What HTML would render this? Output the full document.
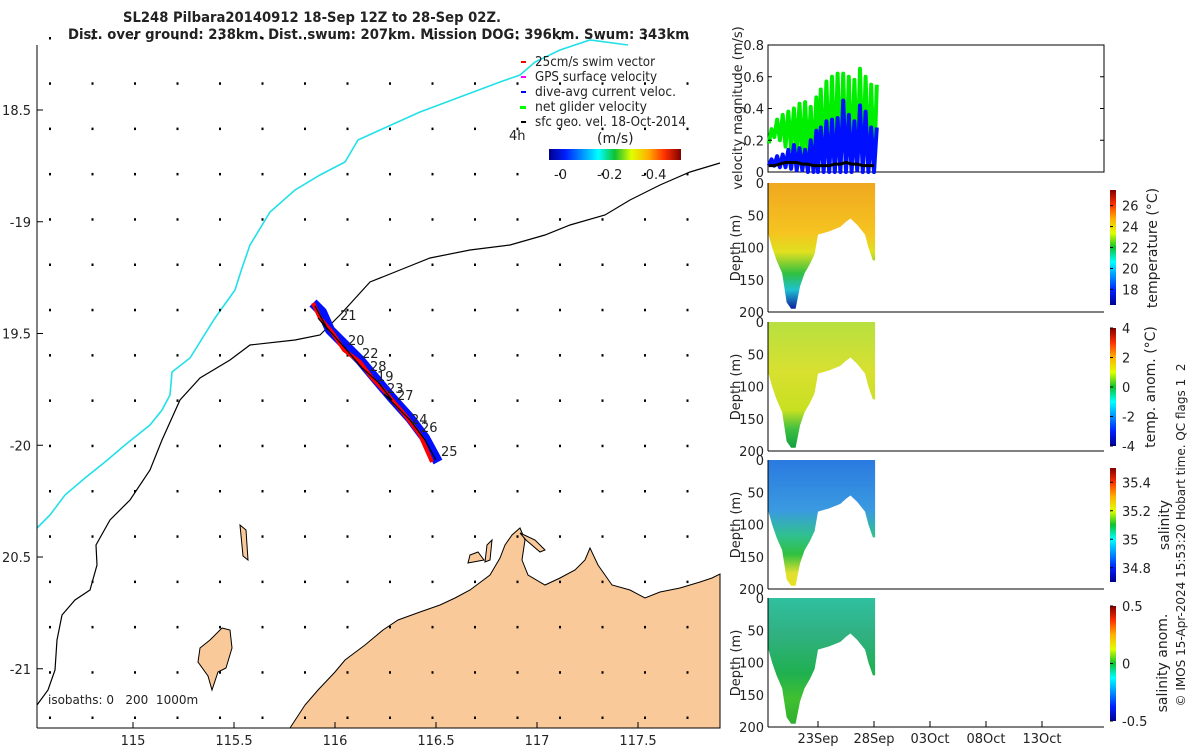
<!DOCTYPE html>
<html><head><meta charset="utf-8"><style>
body{margin:0;background:#fff;font-family:"Liberation Sans","DejaVu Sans",sans-serif;}
svg text{font-family:"DejaVu Sans","Liberation Sans",sans-serif;font-size:13px;fill:#222;}
</style></head><body>
<svg id="s" width="1200" height="750" viewBox="0 0 1200 750" xmlns="http://www.w3.org/2000/svg">
<defs>
<linearGradient id="jet" x1="0" y1="1" x2="0" y2="0">
<stop offset="0" stop-color="#00008f"/><stop offset="0.125" stop-color="#0020ff"/><stop offset="0.375" stop-color="#00ffff"/><stop offset="0.5" stop-color="#10c030"/><stop offset="0.625" stop-color="#e0ff00"/><stop offset="0.75" stop-color="#ffb000"/><stop offset="0.875" stop-color="#ff3000"/><stop offset="1" stop-color="#800000"/></linearGradient>
<linearGradient id="jeth" x1="0" y1="0" x2="1" y2="0">
<stop offset="0" stop-color="#00008f"/><stop offset="0.125" stop-color="#0020ff"/><stop offset="0.375" stop-color="#00ffff"/><stop offset="0.5" stop-color="#10c030"/><stop offset="0.625" stop-color="#e0ff00"/><stop offset="0.75" stop-color="#ffb000"/><stop offset="0.875" stop-color="#ff3000"/><stop offset="1" stop-color="#800000"/></linearGradient>
<linearGradient id="gT" x1="0" y1="0" x2="0" y2="1"><stop offset="0" stop-color="#f0a820"/><stop offset="0.4" stop-color="#f5c420"/><stop offset="0.55" stop-color="#e0e020"/><stop offset="0.72" stop-color="#30c040"/><stop offset="0.85" stop-color="#20c0d0"/><stop offset="1" stop-color="#1020a0"/></linearGradient>
<linearGradient id="gTA" x1="0" y1="0" x2="0" y2="1"><stop offset="0" stop-color="#b8e040"/><stop offset="0.4" stop-color="#d8e030"/><stop offset="0.7" stop-color="#c8e020"/><stop offset="0.85" stop-color="#40c040"/><stop offset="1" stop-color="#10a040"/></linearGradient>
<linearGradient id="gS" x1="0" y1="0" x2="0" y2="1"><stop offset="0" stop-color="#2a7ae0"/><stop offset="0.4" stop-color="#3a9ae0"/><stop offset="0.6" stop-color="#30c090"/><stop offset="0.75" stop-color="#30c040"/><stop offset="0.9" stop-color="#e0e030"/><stop offset="1" stop-color="#e8e020"/></linearGradient>
<linearGradient id="gSA" x1="0" y1="0" x2="0" y2="1"><stop offset="0" stop-color="#30c0a0"/><stop offset="0.3" stop-color="#30b080"/><stop offset="0.6" stop-color="#20b050"/><stop offset="0.8" stop-color="#40c030"/><stop offset="1" stop-color="#30b030"/></linearGradient>
</defs>

<text x="123" y="22" textLength="378" lengthAdjust="spacingAndGlyphs" style="font-weight:bold;font-size:14px">SL248 Pilbara20140912 18-Sep 12Z to 28-Sep 02Z.</text>
<text x="68" y="39" textLength="621" lengthAdjust="spacingAndGlyphs" style="font-weight:bold;font-size:14px">Dist. over ground: 238km. Dist. swum: 207km. Mission DOG: 396km. Swum: 343km</text>

<g>
<path d="M290,728 L305,705 L318,690 L335,672 L345,660 L365,645 L383,630 L398,620 L420,612 L440,605 L455,598 L470,590 L490,575 L500,558 L505,545 L512,535 L520,528 L525,540 L522,560 L528,575 L545,585 L560,578 L575,570 L585,560 L590,548 L598,565 L612,585 L630,590 L645,598 L660,592 L680,588 L700,582 L712,578 L720,574 L720,728 Z" fill="#f9c99a" stroke="#000" stroke-width="1"/>
<path d="M222,628 L230,630 L232,648 L226,668 L218,672 L212,690 L208,676 L198,662 L200,648 L210,640 Z" fill="#f9c99a" stroke="#000" stroke-width="1"/>
<path d="M470,555 L478,552 L484,560 L468,563 Z M487,545 L492,540 L490,560 L485,562 Z M520,533 L535,540 L545,550 L540,552 L526,540 Z M240,525 L246,530 L248,560 L243,556 Z" fill="#f9c99a" stroke="#000" stroke-width="1"/>
<polyline points="37,705 48,690 55,670 57,640 62,615 75,600 90,590 97,565 96,545 110,520 130,500 150,470 162,440 180,400 200,378 230,360 250,345 295,340 320,335 340,315 370,282 400,270 430,258 470,250 510,245 545,235 570,225 605,215 630,200 660,185 690,172 720,163" fill="none" stroke="#000" stroke-width="1.2"/>
<polyline points="37,528 50,515 65,495 85,478 105,462 125,445 150,425 162,410 170,395 172,372 190,358 200,342 215,318 235,290 242,268 250,245 270,212 295,190 320,175 345,162 358,140 380,130 420,112 460,97 500,82 520,75 535,62 560,50 590,40 628,45" fill="none" stroke="#22e0e8" stroke-width="1.6"/>
<g id="dots"></g>
<polyline points="313,303 322,312 330,330 345,345 360,360 375,378 392,398 410,418 425,438 438,462" fill="none" stroke="#0010ff" stroke-width="10" stroke-linejoin="round"/>
<polyline points="313,303 320,318 332,332 344,350 360,362 372,378 388,395 405,415 420,435 432,462" fill="none" stroke="#ff0000" stroke-width="4" stroke-linejoin="round"/>
<polyline points="315,306 328,330 318,318 345,348 362,368 378,382 392,400 384,394 410,420 425,440 436,460" fill="none" stroke="#000" stroke-width="1.2"/>
<g>
<text x="340" y="320">21</text><text x="348" y="345">20</text><text x="362" y="358">22</text><text x="370" y="371">28</text><text x="377" y="381">19</text><text x="387" y="393">23</text><text x="397" y="400">27</text><text x="411" y="424">24</text><text x="421" y="432">26</text><text x="441" y="456">25</text></g>
<line x1="37" y1="45" x2="37" y2="728" stroke="#000"/>
<line x1="37" y1="728" x2="720" y2="728" stroke="#000"/>
<g id="mapticks"></g>
<text x="48" y="704" style="font-size:12px">isobaths: 0&#160;&#160;&#160;200&#160;&#160;1000m</text>
<g style="font-size:12px">
<rect x="521" y="61" width="5" height="2" fill="red"/><text x="535" y="66" textLength="120" lengthAdjust="spacingAndGlyphs">25cm/s swim vector</text>
<rect x="521" y="76" width="5" height="2" fill="#f0f"/><text x="535" y="81" textLength="122" lengthAdjust="spacingAndGlyphs">GPS surface velocity</text>
<rect x="521" y="91" width="5" height="2" fill="#00f"/><text x="535" y="96" textLength="141" lengthAdjust="spacingAndGlyphs">dive-avg current veloc.</text>
<rect x="520" y="106" width="6" height="3" fill="#0f0"/><text x="535" y="111" textLength="112" lengthAdjust="spacingAndGlyphs">net glider velocity</text>
<rect x="521" y="121" width="5" height="2" fill="#000"/><text x="535" y="126" textLength="151" lengthAdjust="spacingAndGlyphs">sfc geo. vel. 18-Oct-2014</text>
</g>
<text x="509" y="140" style="font-size:13px">4h</text>
<text x="597" y="143" style="font-size:14px">(m/s)</text>
<rect x="549" y="149" width="132" height="11" fill="url(#jeth)"/>
<g style="font-size:12px"><text x="554" y="179">-0</text><text x="597" y="179">-0.2</text><text x="641" y="179">-0.4</text></g>
</g>

<g id="vel">
<rect x="768" y="45" width="336" height="127" fill="none" stroke="#000"/>
<text transform="translate(742,108) rotate(-90)" text-anchor="middle">velocity magnitude (m/s)</text>
</g>
<g id="sect"></g>
<text transform="translate(1185,535) rotate(-90)" text-anchor="middle" style="font-size:12px">© IMOS 15-Apr-2024 15:53:20 Hobart time. QC flags 1&#160;&#160;2</text>
</svg>
<script>
// velocity data (days of Sept)
const diveDays=[18.6,19.1,19.6,20.1,20.6,21.1,21.6,22.1,22.6,23.0,23.5,24.0,24.5,25.0,25.5,26.0,26.5,27.0,27.5,28.0];
const greenPeak=[0.27,0.33,0.36,0.38,0.40,0.43,0.44,0.41,0.47,0.52,0.57,0.60,0.62,0.62,0.60,0.58,0.65,0.60,0.55,0.55];
const greenTrough=[0.18,0.22,0.20,0.16,0.14,0.12,0.08,0.06,0.04,0.03,0.02,0.02,0.01,0.02,0.02,0.01,0.02,0.02,0.01,0.0];
const bluePeak=[0.08,0.10,0.11,0.14,0.17,0.15,0.14,0.20,0.26,0.28,0.32,0.33,0.34,0.45,0.36,0.32,0.42,0.38,0.28,0.28];
const blueTrough=[0.04,0.04,0.03,0.03,0.02,0.01,0.01,0.0,0.0,0.0,0.0,0.0,0.0,0.0,0.0,0.0,0.01,0.0,0.0,0.0];
const geoVel=[0.04,0.04,0.05,0.06,0.06,0.06,0.05,0.05,0.04,0.04,0.04,0.04,0.05,0.05,0.06,0.05,0.05,0.04,0.04,0.04];
const velTicks=[0,0.2,0.4,0.6,0.8];
// section bottom profile (day, max depth m)
const secDays=[18.5,18.9,19.3,19.8,20.2,20.6,21.0,21.4,21.8,22.3,22.7,23.0,24.0,25.0,25.5,25.9,26.5,27.2,27.5,27.9,28.1];
const secDepth=[75,100,120,140,185,195,195,160,140,125,110,80,75,68,60,55,65,80,100,120,120];
const depthTicks=[0,50,100,150,200];
const dateTicks=[23,28,33,38,43];
const dateLabels=["23Sep","28Sep","03Oct","08Oct","13Oct"];
const cbarT=[18,20,22,24,26], cbarTA=[-4,-2,0,2,4], cbarS=[34.8,35,35.2,35.4], cbarSA=[-0.5,0,0.5];
const mapXT=[115,115.5,116,116.5,117,117.5], mapYT=[-18.5,-19,-19.5,-20,-20.5,-21];

const NS="http://www.w3.org/2000/svg";
function mk(tag,attrs,parent){const e=document.createElementNS(NS,tag);for(const k in attrs)e.setAttribute(k,attrs[k]);parent.appendChild(e);return e;}
const tx=d=>818+(d-23)*11.2;
const vy=v=>172-v*127/0.8;
const lonx=l=>133+(l-115)*202;
const laty=l=>110+(-18.5-l)*223.5;

const dots=document.getElementById('dots');
for(let i=0;i<16;i++)for(let j=0;j<16;j++){
 const c=mk('rect',{x:50+i*42.5-1,y:38+j*45.3-1,width:2,height:2.5,fill:'#000'},dots);
 
 
}
const mt=document.getElementById('mapticks');
mapXT.forEach(v=>{const x=lonx(v);mk('line',{x1:x,y1:728,x2:x,y2:722,stroke:'#000'},mt);
 const t=mk('text',{x:x,y:745,'text-anchor':'middle'},mt);t.textContent=String(v);
 });
mapYT.forEach(v=>{const y=laty(v);mk('line',{x1:37,y1:y,x2:43,y2:y,stroke:'#000'},mt);
 const half=Math.abs(v*2)%2===1;
 const t=mk('text',{x:31,y:y+5,'text-anchor':'end'},mt);t.textContent=half?String(-v):String(v);
 });

const vel=document.getElementById('vel');
function zig(pk,tr,color,w,name){let pts=[];diveDays.forEach((d,i)=>{pts.push(tx(d)+','+vy(tr[i]));pts.push((tx(d)+2.8)+','+vy(pk[i]));});
 const p=mk('polyline',{points:pts.join(' '),fill:'none',stroke:color,'stroke-width':w,'stroke-linejoin':'round'},vel);
 }
zig(greenPeak,greenTrough,'#00ee00',4,'net-glider-velocity-series');
zig(bluePeak,blueTrough,'#0010ff',4,'dive-avg-current-series');
{const p=mk('polyline',{points:diveDays.map((d,i)=>tx(d)+','+vy(geoVel[i])).join(' '),fill:'none',stroke:'#000','stroke-width':3},vel);
 }
velTicks.forEach(v=>{const y=vy(v);mk('line',{x1:768,y1:y,x2:772,y2:y,stroke:'#000'},vel);mk('line',{x1:1100,y1:y,x2:1104,y2:y,stroke:'#000'},vel);
 const t=mk('text',{x:764,y:y+5,'text-anchor':'end'},vel);t.textContent=String(v);
 });

const sect=document.getElementById('sect');
const panels=[
 {top:183,grad:'gT',cb:cbarT,cbmin:16.5,cbmax:27.5,cby0:190,cby1:305,title:'temperature (°C)',tx:1157,ty:248,name:'temperature'},
 {top:322,grad:'gTA',cb:cbarTA,cbmin:-4,cbmax:4,cby0:328,cby1:446,title:'temp. anom. (°C)',tx:1155,ty:387,name:'temp-anomaly'},
 {top:460,grad:'gS',cb:cbarS,cbmin:34.7,cbmax:35.5,cby0:468,cby1:582,title:'salinity',tx:1169,ty:525,name:'salinity'},
 {top:598,grad:'gSA',cb:cbarSA,cbmin:-0.5,cbmax:0.5,cby0:606,cby1:721,title:'salinity anom.',tx:1167,ty:663,name:'salinity-anomaly'}];
panels.forEach((P,pi)=>{
 const g=mk('g',{},sect);
 
 const dy=d=>P.top+d*129/200;
 let pts=[tx(secDays[0])+','+dy(0)];
 secDays.forEach((d,i)=>pts.push(tx(d)+','+dy(secDepth[i])));
 pts.push(tx(secDays[secDays.length-1])+','+dy(0));
 const gr=mk('polygon',{points:pts.join(' '),fill:'url(#'+P.grad+')'},g);
 
 mk('line',{x1:768,y1:P.top,x2:768,y2:P.top+129,stroke:'#000'},g);
 mk('line',{x1:768,y1:P.top+129,x2:1104,y2:P.top+129,stroke:'#000'},g);
 depthTicks.forEach(v=>{const t=mk('text',{x:764,y:dy(v)+5,'text-anchor':'end'},g);t.textContent=String(v);
  });
 const yt=mk('text',{transform:'translate(740,'+(P.top+65)+') rotate(-90)','text-anchor':'middle'},g);yt.textContent='Depth (m)';
 
 const cb=mk('rect',{x:1110,y:P.cby0,width:6,height:P.cby1-P.cby0,fill:'url(#jet)'},g);
 
 P.cb.forEach(v=>{const y=P.cby1-(v-P.cbmin)/(P.cbmax-P.cbmin)*(P.cby1-P.cby0);
  mk('line',{x1:1110,y1:y,x2:1113,y2:y,stroke:'#000'},g);
  const t=mk('text',{x:1122,y:y+5},g);t.textContent=String(v);
  });
 const ct=mk('text',{transform:'translate('+P.tx+','+P.ty+') rotate(-90)','text-anchor':'middle',style:'font-size:14px'},g);ct.textContent=P.title;
 
 if(pi===3){dateTicks.forEach((d,i)=>{const x=tx(d);mk('line',{x1:x,y1:727,x2:x,y2:721,stroke:'#000'},g);
  const t=mk('text',{x:x,y:743,'text-anchor':'middle'},g);t.textContent=dateLabels[i];
  });}
});
</script>
</body></html>
